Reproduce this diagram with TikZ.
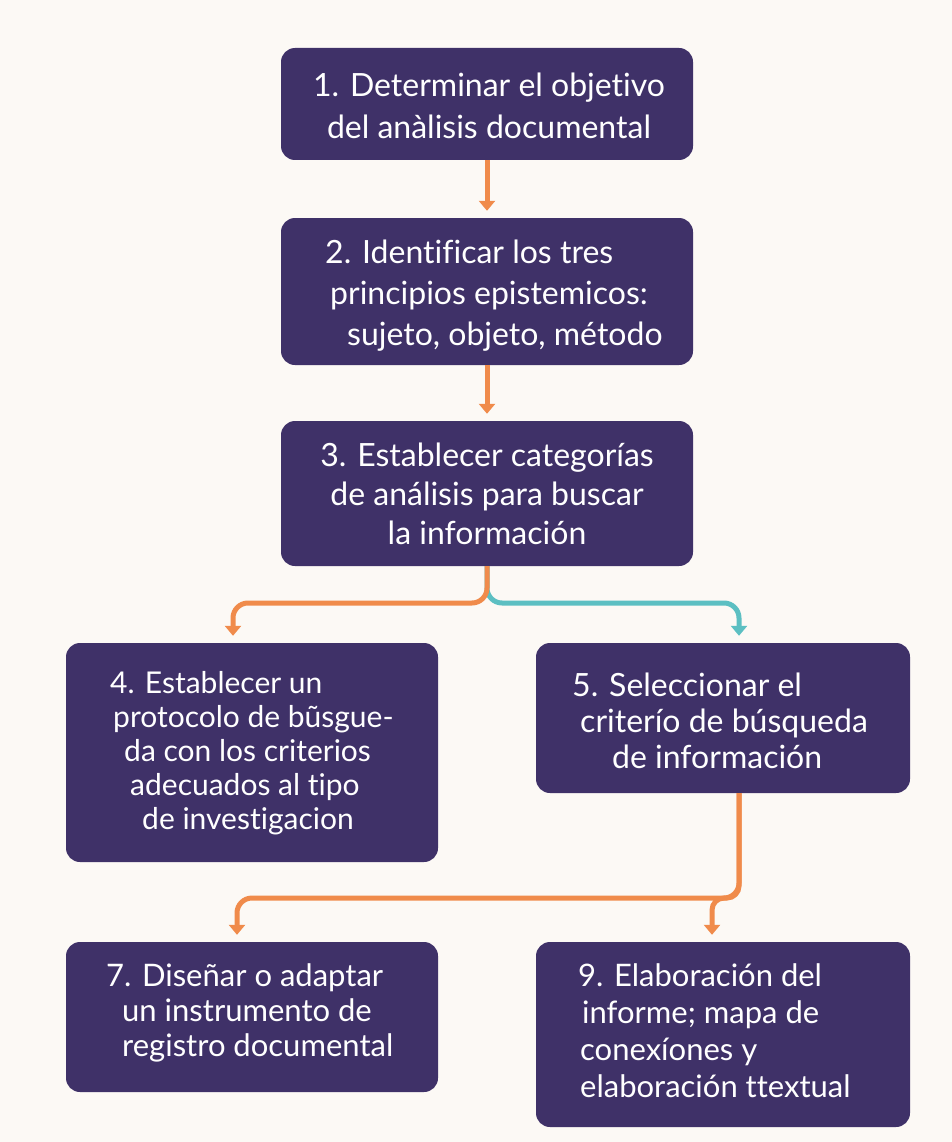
\documentclass[tikz,border=0pt]{standalone}
\usepackage{fontspec}
\setmainfont{Lato}[Ligatures={NoCommon}]
\usetikzlibrary{arrows.meta,calc}
\definecolor{bg}{HTML}{FCF9F5}
\definecolor{boxc}{HTML}{3F3168}
\definecolor{orng}{HTML}{F08B4B}
\definecolor{tealc}{HTML}{5CBFC2}
\begin{document}
\begin{tikzpicture}[x=1pt,y=-1pt,
  stepbox/.style={draw=none, fill=boxc, rounded corners=14pt, inner sep=0pt},
  txt/.style={text=white, align=left, anchor=west, inner sep=0pt},
  conn/.style={line width=5pt, draw=orng, rounded corners=15pt,
    -{Triangle[width=16pt,length=10pt]}, shorten >=7pt},
  big/.style={font=\fontsize{32}{42}\selectfont},
]
\fill[bg] (0,0) rectangle (952,1142);
\useasboundingbox (0,0) rectangle (952,1142);

% boxes
\node[stepbox, minimum width=412pt, minimum height=112pt] (b1) at (487,104) {};
\node[stepbox, minimum width=412pt, minimum height=147pt] (b2) at (487,291.5) {};
\node[stepbox, minimum width=412pt, minimum height=145pt] (b3) at (487,493.5) {};
\node[stepbox, minimum width=372pt, minimum height=219pt] (b4) at (252,752.5) {};
\node[stepbox, minimum width=374pt, minimum height=150pt] (b5) at (723,718) {};
\node[stepbox, minimum width=372pt, minimum height=150pt] (b7) at (252,1017) {};
\node[stepbox, minimum width=374pt, minimum height=185pt] (b9) at (723,1034.5) {};

% texts
\node[txt, big, align=center, anchor=center] (t1) at (489,106)
  {1. Determinar el objetivo\\del anàlisis documental};
\node[txt, big, font=\fontsize{32}{41}\selectfont] (t2) at (325,296)
  {2. Identificar los tres\\\hspace*{5pt}principios epistemicos:\\\hspace*{22pt}sujeto, objeto, método};
\node[txt, align=center, anchor=center, font=\fontsize{32}{39}\selectfont] (t3) at (487,494)
  {3. Establecer categorías\\de análisis para buscar\\la información};
\node[txt, font=\fontsize{30}{34}\selectfont] (t4) at (110,753)
  {4. Establecer un\\\hspace*{3pt}protocolo de bũsgue-\\\hspace*{14pt}da con los criterios\\\hspace*{20pt}adecuados al tipo\\\hspace*{32pt}de investigacion};
\node[txt, font=\fontsize{32}{36}\selectfont] (t5) at (572,721)
  {5. Seleccionar el\\\hspace*{8pt}criterío de búsqueda\\\hspace*{40pt}de información};
\node[txt, font=\fontsize{31}{35}\selectfont] (t7) at (106,1013)
  {7. Diseñar o adaptar\\\hspace*{16pt}un instrumento de\\\hspace*{16pt}registro documental};
\node[txt, font=\fontsize{31}{37}\selectfont] (t9) at (578,1031)
  {9. Elaboración del\\\hspace*{4pt}informe; mapa de\\\hspace*{2pt}conexíones y\\\hspace*{2pt}elaboración ttextual};

% junctions
\coordinate (j3) at (487,603);
\coordinate (j5) at (739,898);

% connectors
\draw[conn] (b1.south) -- (b2.north);
\draw[conn] (b2.south) -- (b3.north);
\draw[conn, draw=tealc] (b3.south) -- (j3) -| ([xshift=16pt]b5.north);
\draw[conn] (b3.south) -- (j3) -| ([xshift=-19pt]b4.north);
\draw[conn] ([xshift=16pt]b5.south) -- (j5) -| ([xshift=-15pt]b7.north);
\draw[conn, rounded corners=12pt] ([xshift=16pt]b5.south) -- (j5) -| ([xshift=-11pt]b9.north);
\end{tikzpicture}
\end{document}
